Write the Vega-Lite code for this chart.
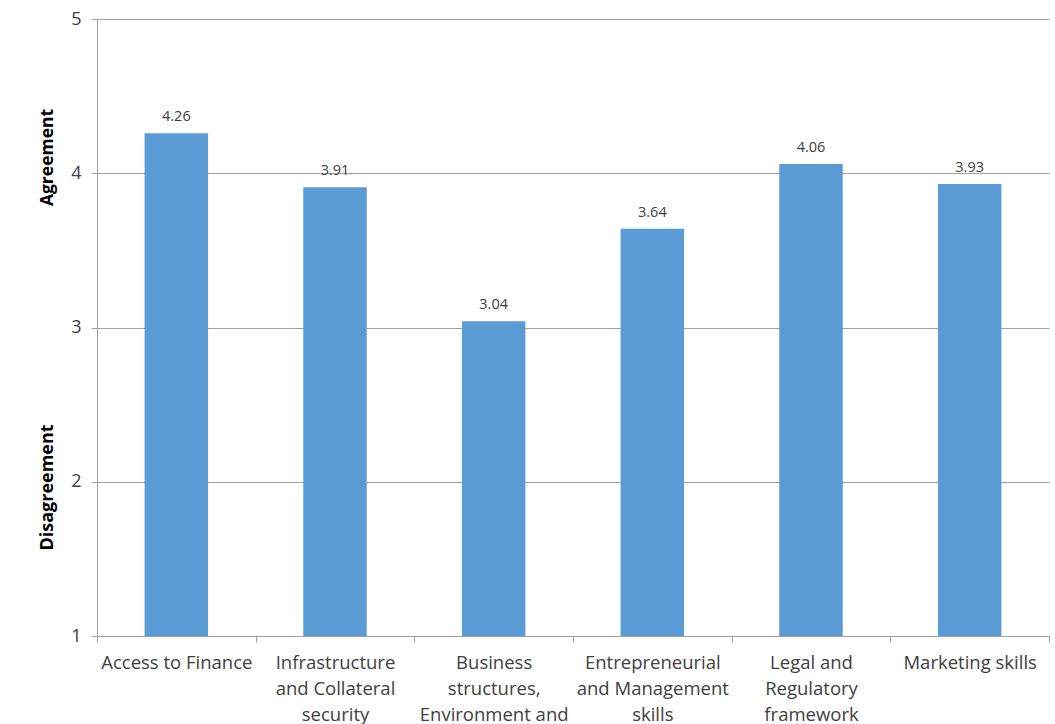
{
  "$schema": "https://vega.github.io/schema/vega-lite/v6.json",
  "autosize": {"type": "none"},
  "width": 952,
  "height": 617,
  "padding": {"left": 97, "top": 19, "right": 6, "bottom": 88},
  "background": "white",
  "config": {
    "font": "Open Sans",
    "view": {"stroke": null}
  },
  "data": {
    "values": [
      {"factor": "Access to Finance", "score": 4.26},
      {"factor": "Infrastructure|and Collateral|security", "score": 3.91},
      {"factor": "Business|structures,|Environment and|Culture", "score": 3.04},
      {"factor": "Entrepreneurial|and Management|skills", "score": 3.64},
      {"factor": "Legal and|Regulatory|framework", "score": 4.06},
      {"factor": "Marketing skills", "score": 3.93}
    ]
  },
  "encoding": {
    "x": {
      "field": "factor",
      "type": "nominal",
      "sort": null,
      "scale": {"paddingInner": 0, "paddingOuter": 0},
      "axis": {
        "title": null,
        "labelAngle": 0,
        "labelExpr": "split(datum.label, '|')",
        "labelFont": "Open Sans",
        "labelFontSize": 18.5,
        "labelColor": "#404040",
        "labelLineHeight": 26,
        "labelBaseline": "top",
        "labelPadding": 11,
        "labelLimit": 400,
        "ticks": true,
        "tickBand": "extent",
        "tickSize": 6,
        "tickWidth": 1,
        "tickColor": "#a0a0a0",
        "domainColor": "#a0a0a0",
        "grid": false
      }
    }
  },
  "layer": [
    {
      "mark": {"type": "bar", "color": "#5b9bd5", "width": {"band": 0.4}},
      "encoding": {
        "y": {
          "field": "score",
          "type": "quantitative",
          "scale": {"domain": [1, 5], "zero": false, "nice": false},
          "axis": {
            "title": "Agreement",
            "titleFont": "Open Sans",
            "titleFontSize": 17.5,
            "titleFontWeight": "bold",
            "titleColor": "#000000",
            "titleX": -50,
            "titleY": 138,
            "titleAlign": "center",
            "titleBaseline": "middle",
            "titleAngle": -90,
            "values": [1, 2, 3, 4, 5],
            "format": "d",
            "labelFont": "Open Sans",
            "labelFontSize": 18,
            "labelColor": "#404040",
            "labelPadding": 10,
            "tickSize": 6,
            "tickColor": "#a0a0a0",
            "domainColor": "#a0a0a0",
            "gridColor": "#a0a0a0",
            "gridWidth": 1
          }
        },
        "y2": {"datum": 1}
      }
    },
    {
      "mark": {"type": "text", "dy": -12, "baseline": "alphabetic", "fontSize": 14.5, "color": "#404040", "font": "Open Sans"},
      "encoding": {
        "y": {
          "field": "score",
          "type": "quantitative",
          "scale": {"domain": [1, 5], "zero": false, "nice": false},
          "axis": {
            "orient": "left",
            "title": "Disagreement",
            "titleFont": "Open Sans",
            "titleFontSize": 18,
            "titleFontWeight": "bold",
            "titleColor": "#000000",
            "titleX": -50,
            "titleY": 468,
            "titleAlign": "center",
            "titleBaseline": "middle",
            "titleAngle": -90,
            "labels": false,
            "ticks": false,
            "domain": false,
            "grid": false
          }
        },
        "text": {"field": "score", "type": "quantitative", "format": ".2f"}
      }
    }
  ],
  "resolve": {"scale": {"y": "independent"}}
}
